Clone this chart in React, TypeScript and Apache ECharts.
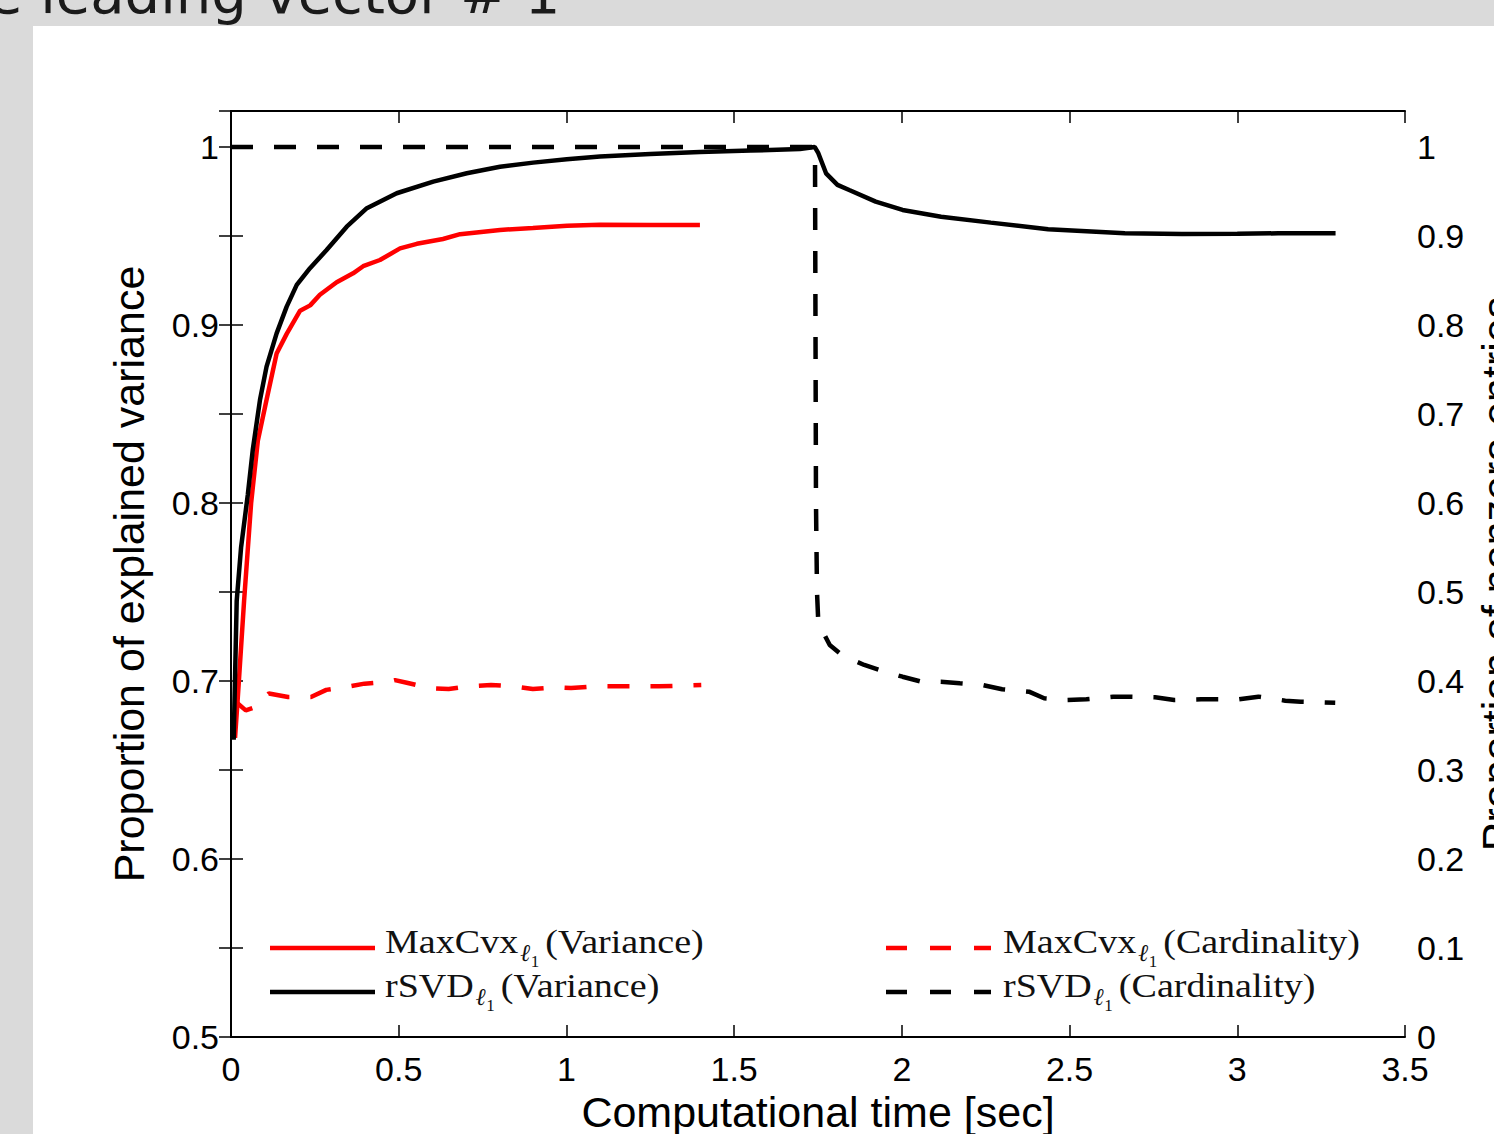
import React, { useEffect, useRef } from "react";
import * as echarts from "echarts";

// ---------- data ----------
const xTickLabels = ["0", "0.5", "1", "1.5", "2", "2.5", "3", "3.5"];

// MaxCvx_l1 (Variance) – left axis
const mcVarX = [0.012, 0.02, 0.039, 0.06, 0.08, 0.106, 0.136, 0.166, 0.206, 0.236, 0.265, 0.315, 0.364, 0.394, 0.444, 0.504, 0.554, 0.632, 0.683, 0.802, 0.9, 1.002, 1.1, 1.25, 1.398];
const mcVarY = [0.668, 0.69, 0.745, 0.8, 0.835, 0.858, 0.884, 0.895, 0.908, 0.911, 0.917, 0.924, 0.929, 0.933, 0.9365, 0.943, 0.9456, 0.9483, 0.951, 0.9534, 0.9545, 0.9558, 0.9563, 0.9562, 0.9562];

// rSVD_l1 (Variance) – left axis
const rsVarX = [0.008, 0.017, 0.03, 0.05, 0.065, 0.0865, 0.106, 0.136, 0.166, 0.196, 0.2355, 0.285, 0.345, 0.405, 0.494, 0.603, 0.703, 0.802, 0.901, 1.001, 1.1, 1.25, 1.398, 1.55, 1.696, 1.74, 1.751, 1.774, 1.808, 1.843, 1.922, 2.002, 2.117, 2.265, 2.436, 2.665, 2.835, 3.0, 3.122, 3.293];
const rsVarY = [0.667, 0.745, 0.775, 0.8045, 0.83, 0.858, 0.8766, 0.8953, 0.9103, 0.9225, 0.9319, 0.9421, 0.9552, 0.9656, 0.974, 0.9805, 0.9852, 0.9889, 0.9912, 0.9931, 0.9946, 0.996, 0.9972, 0.998, 0.9988, 1.0, 0.9965, 0.9852, 0.9787, 0.9758, 0.9693, 0.9646, 0.9608, 0.9575, 0.9538, 0.9515, 0.9511, 0.9512, 0.9515, 0.9515];

// MaxCvx_l1 (Cardinality) – right axis
const mcCardX = [0.01, 0.044, 0.067, 0.113, 0.17, 0.2385, 0.284, 0.353, 0.398, 0.467, 0.489, 0.524, 0.592, 0.649, 0.707, 0.775, 0.843, 0.9, 0.969, 1.014, 1.083, 1.276, 1.402];
const mcCardY = [0.378, 0.367, 0.37, 0.386, 0.382, 0.382, 0.39, 0.394, 0.397, 0.399, 0.401, 0.398, 0.392, 0.391, 0.394, 0.3955, 0.394, 0.391, 0.393, 0.392, 0.394, 0.394, 0.3955];

// rSVD_l1 (Cardinality) – right axis
const rsCardX = [0.0, 1.741, 1.744, 1.747, 1.751, 1.785, 1.825, 1.888, 1.939, 2.002, 2.059, 2.116, 2.173, 2.241, 2.299, 2.379, 2.424, 2.493, 2.55, 2.63, 2.686, 2.755, 2.812, 2.892, 3.005, 3.063, 3.143, 3.189, 3.292];
const rsCardY = [1.0, 1.0, 0.6, 0.5, 0.465, 0.4404, 0.4281, 0.418, 0.4116, 0.4048, 0.3992, 0.3992, 0.3974, 0.3955, 0.3907, 0.388, 0.3806, 0.3787, 0.3794, 0.3824, 0.3824, 0.3817, 0.3787, 0.3794, 0.3794, 0.3824, 0.3779, 0.3767, 0.3756];

const legendMain = ["MaxCvx", "rSVD", "MaxCvx", "rSVD"];
const legendSuffix = ["(Variance)", "(Variance)", "(Cardinality)", "(Cardinality)"];
const titleText = "e leading vector # 1";
const xName = "Computational time [sec]";
const yLeftName = "Proportion of explained variance";
const yRightName = "Proportion of nonzero entries";

const SANS = "'Liberation Sans', Arial, Helvetica, sans-serif";
const SERIF = "'Liberation Serif', 'Times New Roman', serif";
const DASH = [22, 21];

const pairs = (xs: number[], ys: number[]) => xs.map((x, i) => [x, ys[i]]);
const tenth = (v: number) => Math.abs(v * 10 - Math.round(v * 10)) < 1e-6;
const fmtTenth = (v: number) => (tenth(v) ? String(Math.round(v * 10) / 10) : "");

export default function App() {
  const ref = useRef<HTMLDivElement>(null);

  useEffect(() => {
    document.body.style.margin = "0";
    if (!ref.current) return;
    const chart = echarts.init(ref.current, undefined, { renderer: "svg" });

    const ctx = document.createElement("canvas").getContext("2d") as CanvasRenderingContext2D;
    const measure = (t: string, font: string) => {
      ctx.font = font;
      return ctx.measureText(t).width;
    };

    const axisLine = { show: true, lineStyle: { color: "#000", width: 2 } };
    const tick = { show: true, inside: true, length: 12, lineStyle: { color: "#000", width: 1.5 } };
    const label = { color: "#000", fontSize: 34, fontFamily: SANS };
    const nameStyle = { color: "#000", fontSize: 43, fontFamily: SANS };

    // legend graphics
    const MAIN_FS = 34;
    const SX = 1.12;
    const ELL_FS = 24;
    const ONE_FS = 17;
    const legendEls: any[] = [];
    const rows = [
      { lx: 270, sx: 385, y: 948, color: "#ff0000", dash: false },
      { lx: 270, sx: 385, y: 992, color: "#000000", dash: false },
      { lx: 886, sx: 1003, y: 948, color: "#ff0000", dash: true },
      { lx: 886, sx: 1003, y: 992, color: "#000000", dash: true },
    ];
    rows.forEach((r, i) => {
      legendEls.push({
        type: "line",
        shape: { x1: r.lx, y1: r.y, x2: r.lx + 105, y2: r.y },
        style: { stroke: r.color, lineWidth: 4.5, lineDash: r.dash ? [21, 23] : null },
      });
      const base = r.y + 5.5;
      const mainW = measure(legendMain[i], `${MAIN_FS}px ${SERIF}`) * SX;
      const ellX = r.sx + mainW + 2;
      const ellW = measure("ℓ", `italic ${ELL_FS}px ${SERIF}`);
      const oneX = ellX + ellW + 0.5;
      const oneW = measure("1", `${ONE_FS}px ${SERIF}`);
      const sufX = oneX + oneW + 6;
      legendEls.push({
        type: "text", x: r.sx, y: base - 11.5, scaleX: SX,
        style: { text: legendMain[i], fontSize: MAIN_FS, fontFamily: SERIF, fill: "#111", align: "left", verticalAlign: "middle" },
      });
      legendEls.push({
        type: "text", x: ellX, y: base - 1,
        style: { text: "ℓ", fontSize: ELL_FS, fontStyle: "italic", fontFamily: SERIF, fill: "#111", align: "left", verticalAlign: "middle" },
      });
      legendEls.push({
        type: "text", x: oneX, y: base + 7.5,
        style: { text: "1", fontSize: ONE_FS, fontFamily: SERIF, fill: "#111", align: "left", verticalAlign: "middle" },
      });
      legendEls.push({
        type: "text", x: sufX, y: base - 11.5, scaleX: SX,
        style: { text: legendSuffix[i], fontSize: MAIN_FS, fontFamily: SERIF, fill: "#111", align: "left", verticalAlign: "middle" },
      });
    });

    const option: any = {
      animation: false,
      grid: { left: 231, top: 111, width: 1174, height: 926, containLabel: false, outerBoundsMode: "none" },
      xAxis: [
        {
          type: "value", position: "bottom", min: 0, max: 3.5, interval: 0.5,
          axisLine, axisTick: tick, splitLine: { show: false },
          axisLabel: { ...label, margin: 15, formatter: (v: number) => xTickLabels[Math.round(v / 0.5)] ?? "" },
          name: xName, nameLocation: "middle", nameGap: 53, nameTextStyle: nameStyle,
        },
        {
          type: "value", position: "top", min: 0, max: 3.5, interval: 0.5,
          axisLine, axisTick: tick, splitLine: { show: false }, axisLabel: { show: false },
        },
      ],
      yAxis: [
        {
          type: "value", position: "left", min: 0.5, max: 1.0202, interval: 0.05,
          axisLine, axisTick: tick, splitLine: { show: false },
          axisLabel: { ...label, margin: 12, formatter: fmtTenth },
          name: yLeftName, nameLocation: "middle", nameGap: 81, nameRotate: 90, nameTextStyle: nameStyle,
        },
        {
          type: "value", position: "right", min: 0, max: 1.0404, interval: 0.1,
          axisLine, axisTick: tick, splitLine: { show: false },
          axisLabel: { ...label, margin: 12, formatter: fmtTenth },
          name: yRightName, nameLocation: "middle", nameGap: 68, nameRotate: 90, nameTextStyle: nameStyle,
        },
      ],
      series: [
        { name: "MaxCvx (Variance)", type: "line", yAxisIndex: 0, showSymbol: false, symbol: "none", data: pairs(mcVarX, mcVarY), lineStyle: { color: "#ff0000", width: 4.5 }, itemStyle: { color: "#ff0000" } },
        { name: "MaxCvx (Cardinality)", type: "line", yAxisIndex: 1, showSymbol: false, symbol: "none", data: pairs(mcCardX, mcCardY), lineStyle: { color: "#ff0000", width: 4.5, type: DASH }, itemStyle: { color: "#ff0000" } },
        { name: "rSVD (Variance)", type: "line", yAxisIndex: 0, showSymbol: false, symbol: "none", data: pairs(rsVarX, rsVarY), lineStyle: { color: "#000", width: 4.5 }, itemStyle: { color: "#000" } },
        { name: "rSVD (Cardinality)", type: "line", yAxisIndex: 1, showSymbol: false, symbol: "none", data: pairs(rsCardX, rsCardY), lineStyle: { color: "#000", width: 4.5, type: DASH }, itemStyle: { color: "#000" } },
      ],
      graphic: {
        elements: [
          {
            type: "text", x: -12, y: -7,
            style: { text: titleText, fontSize: 56, fontFamily: "'DejaVu Sans', sans-serif", fill: "#1a1a1a", align: "left", verticalAlign: "middle" },
          },
          ...legendEls,
        ],
      },
    };
    chart.setOption(option);
    return () => chart.dispose();
  }, []);

  return (
    <div style={{ position: "relative", width: 1494, height: 1134, background: "#dadada", overflow: "hidden" }}>
      <div style={{ position: "absolute", left: 33, top: 26, right: 0, bottom: 0, background: "#ffffff" }} />
      <div ref={ref} style={{ position: "absolute", left: 0, top: 0, width: 1494, height: 1134 }} />
    </div>
  );
}
